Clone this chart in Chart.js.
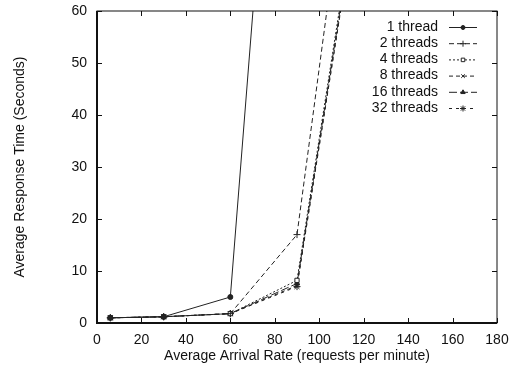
<!DOCTYPE html>
<html>
<head>
<meta charset="utf-8">
<script src="https://cdn.jsdelivr.net/npm/chart.js@4/dist/chart.umd.min.js"></script>
<style>
  html, body { margin: 0; padding: 0; background: #fff; }
  canvas { display: block; }
</style>
</head>
<body>
<canvas id="chart" width="511" height="365"></canvas>
<script>
(function () {

  // arrival rate (requests per minute)
  const rates = [6, 30, 60, 90, 120];

  const oneThread = [1.0, 1.2, 5.0, 167];
  const twoThreads = [1.0, 1.2, 1.8, 17.0, 113];
  const fourThreads = [1.0, 1.2, 1.8, 8.2, 90];
  const eightThreads = [1.0, 1.2, 1.8, 7.2, 88];
  const sixteenThreads = [1.0, 1.2, 1.8, 7.6, 89];
  const thirtyTwoThreads = [1.0, 1.2, 1.8, 7.0, 88];

  const xTicks = [0, 20, 40, 60, 80, 100, 120, 140, 160, 180];
  const yTicks = [0, 10, 20, 30, 40, 50, 60];

  const font = 'Liberation Sans, Arial, Helvetica, sans-serif';

  const pts = (vals) => vals.map((v, i) => ({ x: rates[i], y: v }));

  const series = [
    { label: '1 thread', data: oneThread, style: 'circle', dash: [], r: 2.5 },
    { label: '2 threads', data: twoThreads, style: 'cross', dash: [5, 3], r: 3.5 },
    { label: '4 threads', data: fourThreads, style: 'rect', dash: [2, 2], r: 3 },
    { label: '8 threads', data: eightThreads, style: 'crossRot', dash: [4, 3], r: 3 },
    { label: '16 threads', data: sixteenThreads, style: 'triangle', dash: [8, 3], r: 3 },
    { label: '32 threads', data: thirtyTwoThreads, style: 'star', dash: [3, 4], r: 3.5 },
  ];

  const datasets = series.map(s => ({
    label: s.label,
    data: pts(s.data),
    borderColor: '#222',
    backgroundColor: s.style === 'rect' ? '#fff' : '#222',
    borderWidth: 1,
    borderDash: s.dash,
    pointStyle: s.style,
    pointRadius: s.r,
    pointBorderColor: '#222',
    pointBackgroundColor: s.style === 'rect' ? '#fff' : '#222',
    pointBorderWidth: 1,
    tension: 0,
  }));

  // box round the plot with inward ticks on all four sides (gnuplot style)
  const frame = {
    id: 'frame',
    afterDatasetsDraw(chart) {
      const { ctx, chartArea: a, scales: { x, y } } = chart;
      ctx.save();
      ctx.strokeStyle = '#111';
      ctx.setLineDash([]);
      ctx.lineWidth = 1;
      ctx.strokeRect(a.left, a.top, a.right - a.left, a.bottom - a.top);
      // left and bottom edges are heavier in the original
      ctx.lineWidth = 2;
      ctx.beginPath();
      ctx.moveTo(a.left, a.top);
      ctx.lineTo(a.left, a.bottom);
      ctx.lineTo(a.right, a.bottom);
      ctx.stroke();
      ctx.lineWidth = 1;
      ctx.beginPath();
      x.ticks.forEach(t => {
        const px = Math.round(x.getPixelForValue(t.value)) + 0.5;
        ctx.moveTo(px, a.bottom); ctx.lineTo(px, a.bottom - 5);
        ctx.moveTo(px, a.top); ctx.lineTo(px, a.top + 5);
      });
      y.ticks.forEach(t => {
        const py = Math.round(y.getPixelForValue(t.value)) + 0.5;
        ctx.moveTo(a.left, py); ctx.lineTo(a.left + 5, py);
        ctx.moveTo(a.right, py); ctx.lineTo(a.right - 5, py);
      });
      ctx.stroke();
      ctx.restore();
    }
  };

  // legend inside the plot, text right aligned, line sample on the right
  const keyBox = {
    id: 'keyBox',
    afterDraw(chart) {
      const { ctx, chartArea: a } = chart;
      ctx.save();
      ctx.font = '14px ' + font;
      ctx.textAlign = 'right';
      ctx.textBaseline = 'middle';
      chart.data.datasets.forEach((ds, i) => {
        const y = a.top + 16 + i * 16.2;
        ctx.fillStyle = '#111';
        ctx.fillText(ds.label, a.right - 59, y);
        const x0 = a.right - 48, x1 = a.right - 20;
        ctx.strokeStyle = '#222';
        ctx.lineWidth = 1;
        ctx.setLineDash(ds.borderDash);
        ctx.beginPath();
        ctx.moveTo(x0, y + 0.5);
        ctx.lineTo(x1, y + 0.5);
        ctx.stroke();
        ctx.setLineDash([]);
        ctx.fillStyle = ds.pointBackgroundColor;
        Chart.helpers.drawPoint(ctx, {
          pointStyle: ds.pointStyle,
          radius: ds.pointRadius - 0.5,
          rotation: 0,
          borderWidth: 1
        }, (x0 + x1) / 2, y + 0.5);
      });
      ctx.restore();
    }
  };

  new Chart(document.getElementById('chart'), {
    type: 'line',
    data: { datasets: datasets },
    plugins: [frame, keyBox],
    options: {
      responsive: false,
      animation: false,
      layout: { padding: { left: 0, right: 14, top: 11, bottom: 0 } },
      plugins: {
        legend: { display: false },
        tooltip: { enabled: false }
      },
      scales: {
        x: {
          type: 'linear',
          min: 0,
          max: 180,
          afterBuildTicks: (s) => { s.ticks = xTicks.map(v => ({ value: v })); },
          afterFit: (s) => { s.height = 42; s.paddingLeft = 0; s.paddingRight = 0; },
          grid: { display: false, drawTicks: false },
          border: { display: false },
          ticks: { color: '#111', padding: 9, font: { family: font, size: 14 } },
          title: {
            display: true,
            text: 'Average Arrival Rate (requests per minute)',
            color: '#111',
            padding: 0,
            font: { family: font, size: 14 }
          }
        },
        y: {
          min: 0,
          max: 60,
          afterBuildTicks: (s) => { s.ticks = yTicks.map(v => ({ value: v })); },
          afterFit: (s) => { s.width = 97; s.paddingTop = 0; s.paddingBottom = 0; },
          grid: { display: false, drawTicks: false },
          border: { display: false },
          ticks: { color: '#111', padding: 10, font: { family: font, size: 14 } },
          title: {
            display: true,
            text: 'Average Response Time (Seconds)',
            color: '#111',
            padding: { top: 12, bottom: 0 },
            font: { family: font, size: 14 }
          }
        }
      }
    }
  });

})();
</script>
</body>
</html>
